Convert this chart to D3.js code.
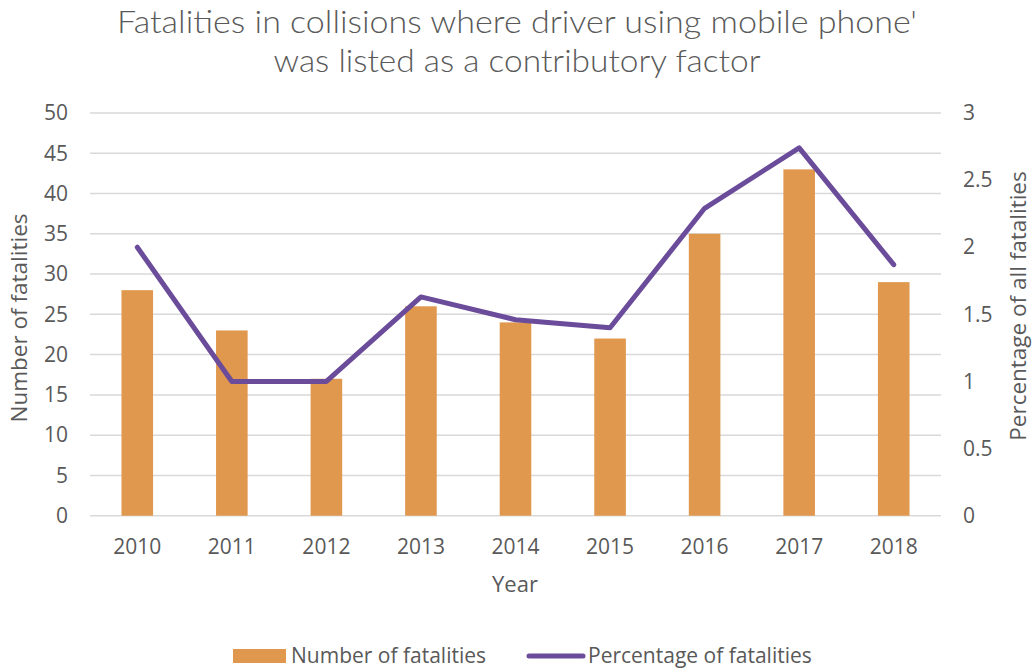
<!DOCTYPE html>
<html><head><meta charset="utf-8">
<script src="https://cdn.jsdelivr.net/npm/d3@7"></script>
<style>body{margin:0;background:#fff}svg{display:block}</style>
</head><body>
<script>
const years = ["2010","2011","2012","2013","2014","2015","2016","2017","2018"];
const fatalities = [28,23,17,26,24,22,35,43,29];
const percentage = [2.0,1.0,1.0,1.63,1.46,1.40,2.29,2.74,1.87];
const leftTicks = [0,5,10,15,20,25,30,35,40,45,50];
const rightTicks = [0,0.5,1,1.5,2,2.5,3];
const titleLines = ["Fatalities in collisions where driver using mobile phone'","was listed as a contributory factor"];

const W=1035,H=671;
const svg=d3.select("body").append("svg").attr("width",W).attr("height",H);
const m={l:90,r:941,t:113,b:515.7};
const x=d3.scaleBand().domain(years).range([m.l,m.r]).paddingInner(0.666).paddingOuter(0.333);
const yL=d3.scaleLinear().domain([0,50]).range([m.b,m.t]);
const yR=d3.scaleLinear().domain([0,3]).range([m.b,m.t]);
const txt="#595959", font="'Open Sans', sans-serif";

// title
const tl=[{s:titleLines[0],y:33,w:800},{s:titleLines[1],y:72,w:487}];
tl.forEach(d=>{
  svg.append("text").attr("x",517).attr("y",d.y).attr("text-anchor","middle")
    .attr("font-family","Lato, sans-serif").attr("font-weight",300).attr("font-size",31)
    .attr("fill",txt).attr("textLength",d.w).attr("lengthAdjust","spacingAndGlyphs").text(d.s);
});

// grid
svg.append("g").selectAll("line").data(leftTicks).join("line")
  .attr("x1",m.l).attr("x2",m.r).attr("y1",d=>yL(d)).attr("y2",d=>yL(d))
  .attr("stroke","#d9d9d9").attr("stroke-width",1.5);

// left axis
const ga=svg.append("g").attr("transform",`translate(${m.l-22},0)`)
  .call(d3.axisLeft(yL).tickValues(leftTicks).tickSize(0).tickPadding(0));
ga.select(".domain").remove();
ga.selectAll("text").attr("font-family",font).attr("font-size",21).attr("fill",txt);
const gr=svg.append("g").attr("transform",`translate(${m.r+22},0)`)
  .call(d3.axisRight(yR).tickValues(rightTicks).tickFormat(d=>String(d)).tickSize(0).tickPadding(0));
gr.select(".domain").remove();
gr.selectAll("text").attr("font-family",font).attr("font-size",21).attr("fill",txt);
const gx=svg.append("g").attr("transform",`translate(0,${m.b})`)
  .call(d3.axisBottom(x).tickSize(0).tickPadding(0));
gx.select(".domain").remove();
gx.selectAll("text").attr("font-family",font).attr("font-size",21).attr("fill",txt).attr("dy",null).attr("y",38.5);

// bars
svg.append("g").selectAll("rect").data(fatalities).join("rect")
  .attr("x",(d,i)=>x(years[i])).attr("width",x.bandwidth())
  .attr("y",d=>yL(d)).attr("height",d=>yL(0)-yL(d)).attr("fill","#e0974e");

// line
svg.append("path").datum(percentage)
  .attr("d",d3.line().x((d,i)=>x(years[i])+x.bandwidth()/2).y(d=>yR(d)))
  .attr("fill","none").attr("stroke","#6b4c9a").attr("stroke-width",5)
  .attr("stroke-linecap","round").attr("stroke-linejoin","round");

// axis titles
svg.append("text").attr("transform","translate(27,318) rotate(-90)").attr("text-anchor","middle")
  .attr("font-family",font).attr("font-size",22.5).attr("fill",txt).text("Number of fatalities");
svg.append("text").attr("transform","translate(1026,306) rotate(-90)").attr("text-anchor","middle")
  .attr("font-family",font).attr("font-size",22.5).attr("fill",txt).text("Percentage of all fatalities");
svg.append("text").attr("x",515).attr("y",592).attr("text-anchor","middle")
  .attr("font-family",font).attr("font-size",22).attr("fill",txt).text("Year");

// legend
const lg=svg.append("g");
lg.append("rect").attr("x",233).attr("y",649).attr("width",53).attr("height",14).attr("fill","#e0974e");
lg.append("text").attr("x",291).attr("y",663).attr("font-family",font).attr("font-size",21).attr("fill",txt).text("Number of fatalities");
lg.append("line").attr("x1",529).attr("x2",583).attr("y1",656).attr("y2",656)
  .attr("stroke","#6b4c9a").attr("stroke-width",5).attr("stroke-linecap","round");
lg.append("text").attr("x",588).attr("y",663).attr("font-family",font).attr("font-size",21).attr("fill",txt).text("Percentage of fatalities");
</script>
</body></html>
